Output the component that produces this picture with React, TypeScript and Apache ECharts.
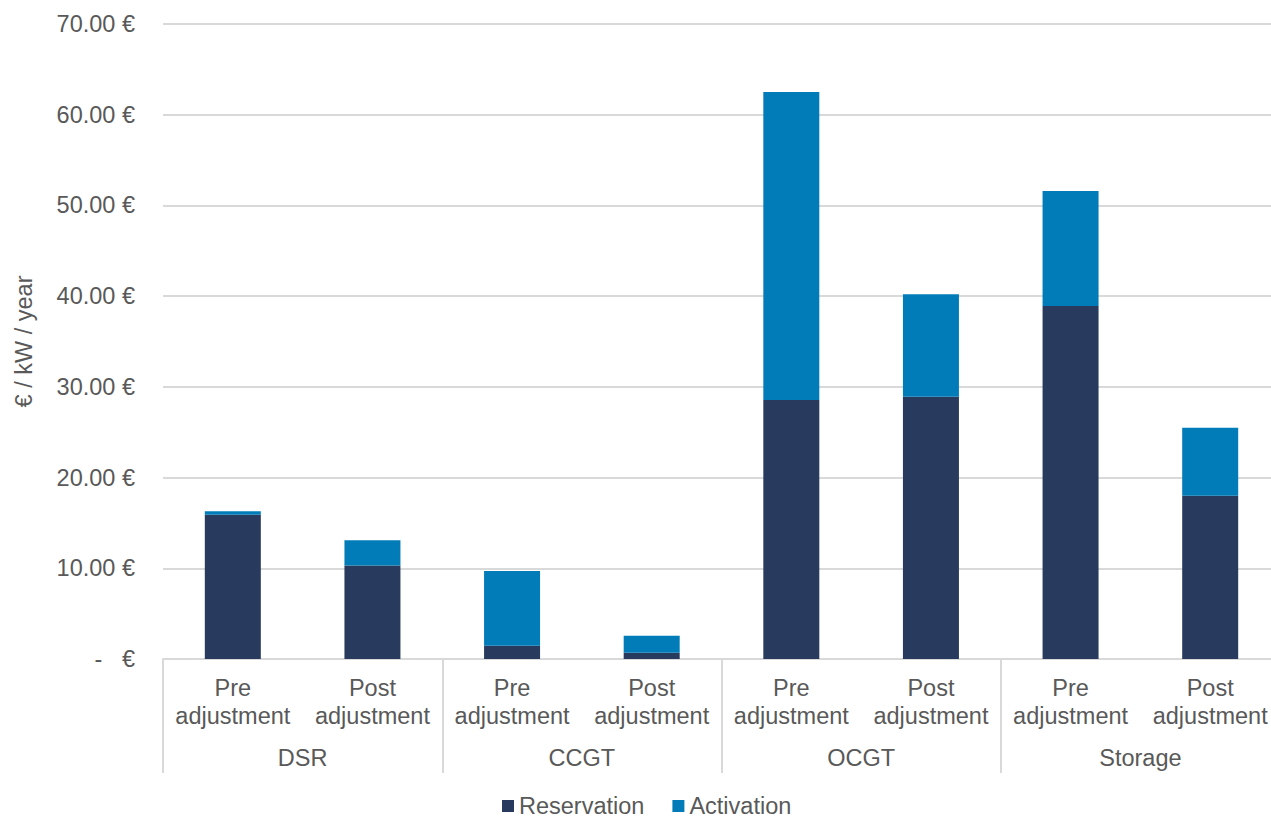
import React, { useEffect, useRef } from "react";
import * as echarts from "echarts";

const barLabels = ["Pre\nadjustment", "Post\nadjustment", "Pre\nadjustment", "Post\nadjustment", "Pre\nadjustment", "Post\nadjustment", "Pre\nadjustment", "Post\nadjustment"];
const groups = ["DSR", "CCGT", "OCGT", "Storage"];
const reservation = [15.9, 10.3, 1.45, 0.7, 28.55, 28.9, 38.9, 18.0];
const activation = [0.4, 2.8, 8.25, 1.85, 33.95, 11.3, 12.7, 7.5];
const yTicks = { min: 0, max: 70, interval: 10 };

const FONT = "Liberation Sans, Arial, sans-serif";
const TXT = "#595959";
const GRID = "#d9d9d9";

export default function App() {
  const ref = useRef<HTMLDivElement>(null);
  useEffect(() => {
    if (!ref.current) return;
    const chart = echarts.init(ref.current, undefined, { renderer: "svg" });
    chart.setOption({
      animation: false,
      textStyle: { fontFamily: FONT },
      grid: { left: 163, top: 24, width: 1117, height: 635, containLabel: false, outerBoundsMode: "none" },
      legend: {
        left: 502,
        top: 794,
        padding: 0,
        itemWidth: 12,
        itemHeight: 12,
        itemGap: 28,
        icon: "rect",
        textStyle: { color: TXT, fontSize: 23.5, fontFamily: FONT, lineHeight: 24 },
        data: ["Reservation", "Activation"],
      },
      xAxis: [
        {
          type: "category",
          data: barLabels,
          position: "bottom",
          axisLine: { show: true, lineStyle: { color: GRID, width: 2 } },
          axisTick: { show: false },
          axisLabel: {
            interval: 0,
            color: TXT,
            fontSize: 23.5,
            fontFamily: FONT,
            lineHeight: 28,
            margin: 15,
          },
        },
        {
          type: "category",
          data: groups,
          position: "bottom",
          axisLine: { show: false },
          axisTick: { show: true, length: 114, lineStyle: { color: GRID, width: 2 } },
          axisLabel: {
            interval: 0,
            color: TXT,
            fontSize: 23.5,
            fontFamily: FONT,
            lineHeight: 28,
            margin: 85,
          },
        },
      ],
      yAxis: {
        type: "value",
        min: yTicks.min,
        max: yTicks.max,
        interval: yTicks.interval,
        name: "€ / kW / year",
        nameLocation: "middle",
        nameGap: 127,
        nameRotate: 90,
        nameTextStyle: { color: TXT, fontSize: 23.5, fontFamily: FONT },
        axisLine: { show: false },
        axisTick: { show: false },
        splitLine: { lineStyle: { color: GRID, width: 2 } },
        axisLabel: {
          color: TXT,
          fontSize: 23.5,
          fontFamily: FONT,
          margin: 28,
          formatter: (v: number) => (v === 0 ? "-   €" : v.toFixed(2) + " €"),
        },
      },
      series: [
        {
          name: "Reservation",
          type: "bar",
          stack: "total",
          xAxisIndex: 0,
          barWidth: 56,
          itemStyle: { color: "#283B5E" },
          data: reservation,
        },
        {
          name: "Activation",
          type: "bar",
          stack: "total",
          xAxisIndex: 0,
          barWidth: 56,
          itemStyle: { color: "#027CB8" },
          data: activation,
        },
      ],
    });
    return () => chart.dispose();
  }, []);
  return (
    <div
      ref={ref}
      style={{ position: "absolute", left: 0, top: 0, width: 1271, height: 816, overflow: "hidden" }}
    />
  );
}
